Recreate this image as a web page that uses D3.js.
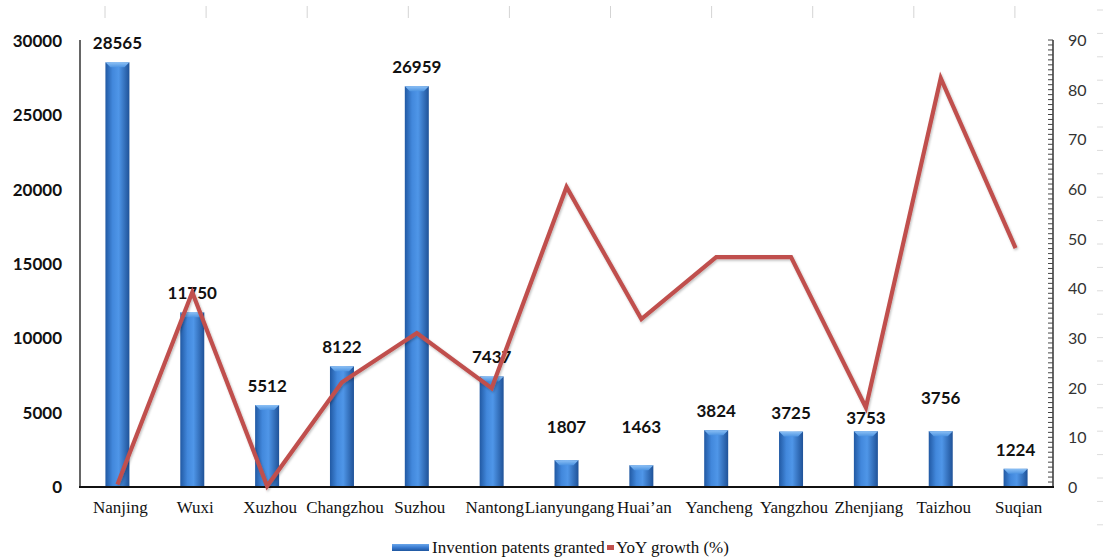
<!DOCTYPE html>
<html>
<head>
<meta charset="utf-8">
<script src="https://cdn.jsdelivr.net/npm/d3@7"></script>
<style>
  html, body { margin: 0; padding: 0; background: #fff; }
  svg { display: block; }
</style>
</head>
<body>
<svg id="chart" width="1103" height="559"></svg>
<script>
// ---- data ----
const categories = ["Nanjing", "Wuxi", "Xuzhou", "Changzhou", "Suzhou", "Nantong", "Lianyungang", "Huai\u2019an", "Yancheng", "Yangzhou", "Zhenjiang", "Taizhou", "Suqian"];
const patents = [28565, 11750, 5512, 8122, 26959, 7437, 1807, 1463, 3824, 3725, 3753, 3756, 1224];
const growth = [0.5, 39.2, 0.2, 21.1, 31.0, 19.9, 60.4, 33.8, 46.3, 46.3, 16.0, 82.3, 48.1];
const leftTicks = [0, 5000, 10000, 15000, 20000, 25000, 30000];
const rightTicks = [0, 10, 20, 30, 40, 50, 60, 70, 80, 90];
const seriesNames = ["Invention patents granted", "YoY growth (%)"];
// label vertical nudges (layout only)
const labelNudge = [0, 0, 0, 0, 0, 0, -14, -19, 0, 0, 6, -14, 0];

// ---- layout ----
const svg = d3.select("#chart");
const pL = 80, pR = 1053, pT = 40, pB = 487;

const x = d3.scaleBand().domain(categories).range([pL, pR]).padding(0);
const yL = d3.scaleLinear().domain([0, 30000]).range([pB, pT + 1]);
const yR = d3.scaleLinear().domain([0, 90]).range([pB, pT]);
const barW = 24;

// faint scan/ruler artefacts
const rulerX = d3.range(0, 10).map(i => 105 + i * 101.1);
svg.append("g").selectAll("line").data(rulerX).join("line")
  .attr("x1", d => d).attr("x2", d => d).attr("y1", 6).attr("y2", 18)
  .attr("stroke", "#d4d4d4").attr("stroke-width", 1);
svg.append("g").selectAll("line").data(d3.range(0, 23)).join("line")
  .attr("x1", 1097).attr("x2", 1103)
  .attr("y1", d => 10 + d * 23.4).attr("y2", d => 10 + d * 23.4)
  .attr("stroke", "#dcdcdc").attr("stroke-width", 1);

// gradients
const defs = svg.append("defs");
const g1 = defs.append("linearGradient").attr("id", "barGrad").attr("x1", "0").attr("x2", "1").attr("y1", "0").attr("y2", "0");
g1.append("stop").attr("offset", "0%").attr("stop-color", "#2159a3");
g1.append("stop").attr("offset", "30%").attr("stop-color", "#4288dc");
g1.append("stop").attr("offset", "55%").attr("stop-color", "#4f96e8");
g1.append("stop").attr("offset", "100%").attr("stop-color", "#1f5298");
const g2 = defs.append("linearGradient").attr("id", "capGrad").attr("x1", "0").attr("x2", "0").attr("y1", "0").attr("y2", "1");
g2.append("stop").attr("offset", "0%").attr("stop-color", "#8cc0f5");
g2.append("stop").attr("offset", "100%").attr("stop-color", "#4d94e2");
const g3 = defs.append("linearGradient").attr("id", "legGrad").attr("x1", "0").attr("x2", "0").attr("y1", "0").attr("y2", "1");
g3.append("stop").attr("offset", "0%").attr("stop-color", "#6aa6ea");
g3.append("stop").attr("offset", "50%").attr("stop-color", "#3a7bd0");
g3.append("stop").attr("offset", "100%").attr("stop-color", "#1f569f");
const shadow = defs.append("filter").attr("id", "lineShadow").attr("x", "-5%").attr("y", "-5%").attr("width", "110%").attr("height", "110%");
shadow.append("feDropShadow").attr("dx", 1).attr("dy", 1.5).attr("stdDeviation", 1.2).attr("flood-color", "#000").attr("flood-opacity", 0.25);

// bars
const bars = svg.append("g");
bars.selectAll("rect.bar").data(patents).join("rect")
  .attr("class", "bar")
  .attr("x", (d, i) => x(categories[i]) + x.bandwidth() / 2 - barW / 2)
  .attr("y", d => yL(d))
  .attr("width", barW)
  .attr("height", d => pB - yL(d))
  .attr("fill", "url(#barGrad)");
bars.selectAll("path.cap").data(patents).join("path")
  .attr("class", "cap")
  .attr("d", (d, i) => {
    const cx = x(categories[i]) + x.bandwidth() / 2, y0 = yL(d);
    return `M${cx - barW / 2},${y0} L${cx + barW / 2},${y0} L${cx + barW / 2 - 5},${y0 + 5} L${cx - barW / 2 + 5},${y0 + 5} Z`;
  })
  .attr("fill", "url(#capGrad)");

// axes lines
svg.append("line").attr("x1", pL).attr("x2", pL).attr("y1", pT).attr("y2", pB)
  .attr("stroke", "#333").attr("stroke-width", 1.5);
svg.append("line").attr("x1", pR).attr("x2", pR).attr("y1", pT).attr("y2", pB)
  .attr("stroke", "#333").attr("stroke-width", 1.5);

// left axis labels
svg.append("g").selectAll("text").data(leftTicks).join("text")
  .attr("x", 62).attr("y", d => yL(d) + 6)
  .attr("text-anchor", "end")
  .attr("font-family", "Lato, 'Liberation Sans', sans-serif")
  .attr("font-weight", "bold").attr("font-size", 17).attr("fill", "#111")
  .text(d => d);

// right axis
const minor = d3.range(0, 91, 1);
svg.append("g").selectAll("line").data(minor).join("line")
  .attr("x1", pR - 5).attr("x2", pR)
  .attr("y1", d => yR(d)).attr("y2", d => yR(d))
  .attr("stroke", "#444").attr("stroke-width", 1);
svg.append("g").selectAll("text").data(rightTicks).join("text")
  .attr("x", 1068).attr("y", d => yR(d) + 6)
  .attr("font-family", "Lato, 'Liberation Sans', sans-serif")
  .attr("font-size", 16).attr("fill", "#333")
  .text(d => d);

// bottom axis
svg.append("line").attr("x1", pL - 1).attr("x2", pR + 1).attr("y1", pB).attr("y2", pB)
  .attr("stroke", "#111").attr("stroke-width", 2.2);

// category labels
svg.append("g").selectAll("text").data(categories).join("text")
  .attr("x", d => x(d) + x.bandwidth() / 2 + 3)
  .attr("y", 513)
  .attr("text-anchor", "middle")
  .attr("font-family", "'Liberation Serif', 'Times New Roman', serif")
  .attr("font-size", 17).attr("fill", "#111")
  .text(d => d);

// data labels
svg.append("g").selectAll("text").data(patents).join("text")
  .attr("x", (d, i) => x(categories[i]) + x.bandwidth() / 2)
  .attr("y", (d, i) => yL(d) - 13 + labelNudge[i])
  .attr("text-anchor", "middle")
  .attr("font-family", "Lato, 'Liberation Sans', sans-serif")
  .attr("font-weight", "bold").attr("font-size", 17).attr("fill", "#111")
  .text(d => d);

// growth line
const line = d3.line()
  .x((d, i) => x(categories[i]) + x.bandwidth() / 2)
  .y(d => yR(d));
svg.append("path").datum(growth)
  .attr("d", line)
  .attr("fill", "none")
  .attr("stroke", "#c0504d")
  .attr("stroke-width", 4.2)
  .attr("stroke-linejoin", "miter")
  .attr("filter", "url(#lineShadow)");

// legend
const leg = svg.append("g");
leg.append("rect").attr("x", 392).attr("y", 544).attr("width", 37).attr("height", 7)
  .attr("fill", "url(#legGrad)");
leg.append("text").attr("x", 432).attr("y", 553)
  .attr("font-family", "'Liberation Serif', 'Times New Roman', serif")
  .attr("font-size", 17).attr("fill", "#111")
  .text(seriesNames[0]);
leg.append("rect").attr("x", 607).attr("y", 545).attr("width", 7).attr("height", 5)
  .attr("fill", "#c0504d");
leg.append("text").attr("x", 616).attr("y", 553)
  .attr("font-family", "'Liberation Serif', 'Times New Roman', serif")
  .attr("font-size", 17).attr("fill", "#111")
  .text(seriesNames[1]);
</script>
</body>
</html>
